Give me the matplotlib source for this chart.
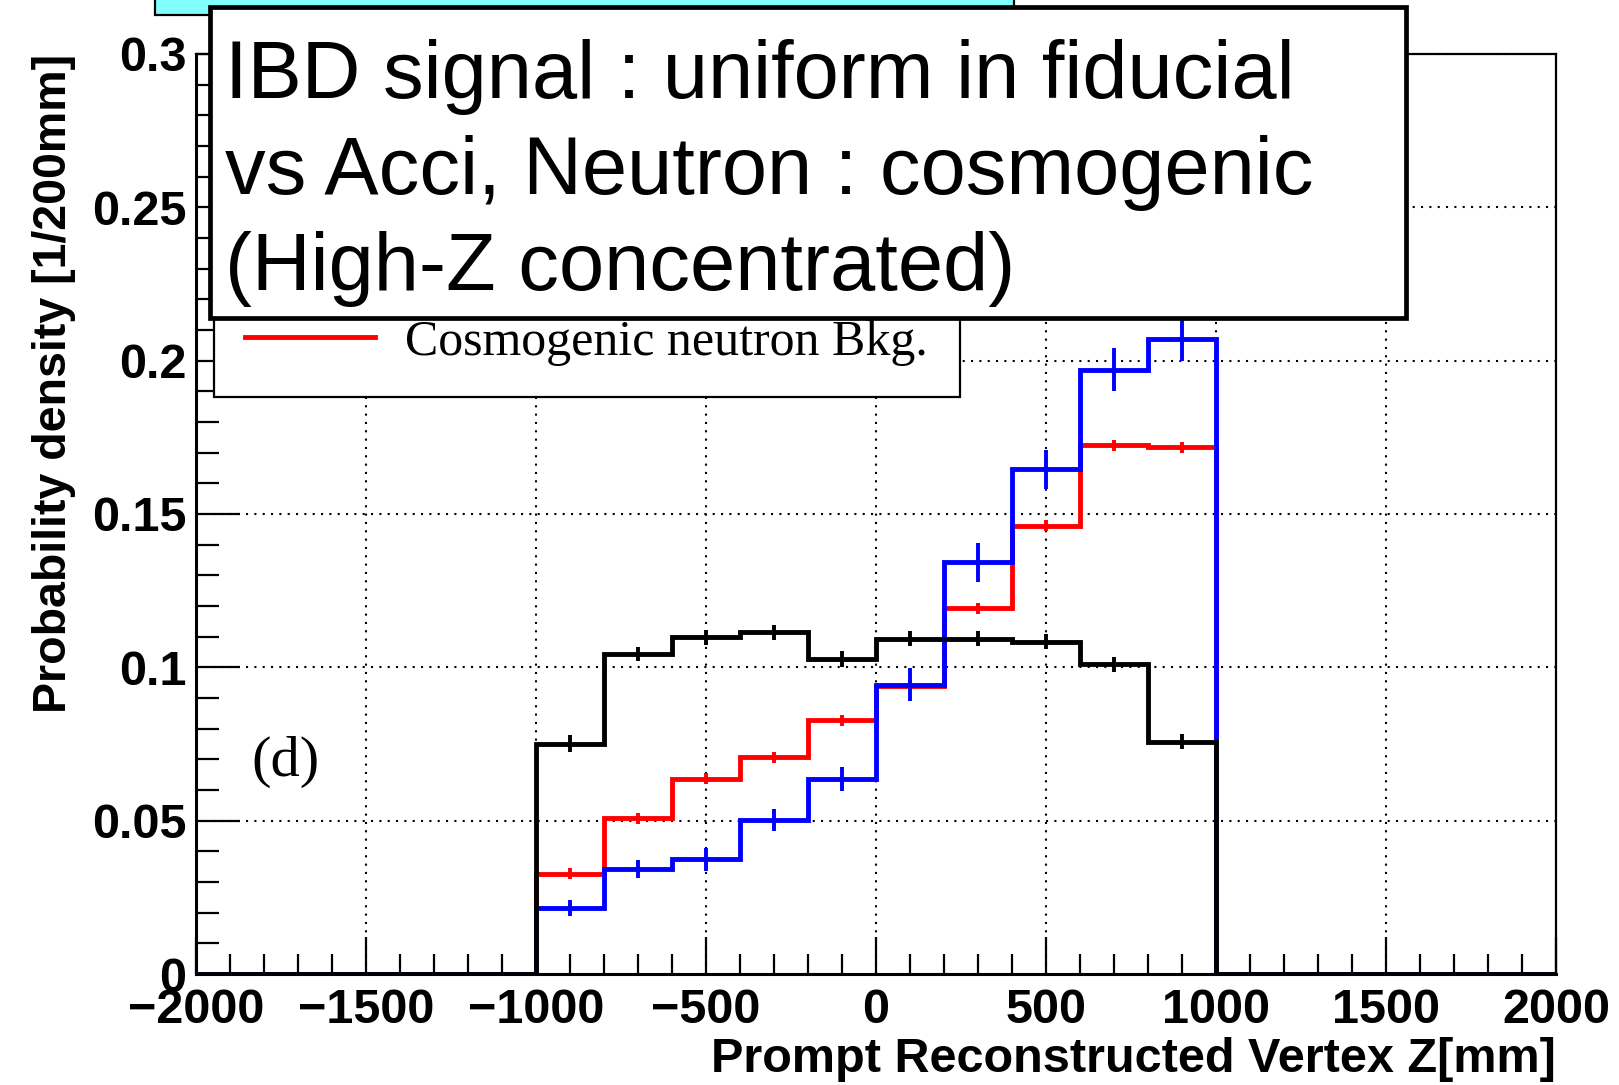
import matplotlib
matplotlib.use('Agg')
import matplotlib.pyplot as plt
import numpy as np
from matplotlib.patches import Rectangle
from matplotlib.lines import Line2D
from matplotlib.ticker import MultipleLocator, FuncFormatter

# ---- data ----
edges = np.arange(-2000, 2001, 200)
signal = [0, 0, 0, 0, 0,
          0.0751, 0.1044, 0.1098, 0.1114, 0.1027, 0.1094, 0.1094, 0.1084, 0.1010, 0.0758,
          0, 0, 0, 0, 0]
signal_err = [0, 0, 0, 0, 0,
              0.0027, 0.0023, 0.0025, 0.0025, 0.0025, 0.0025, 0.0025, 0.0025, 0.0025, 0.0025,
              0, 0, 0, 0, 0]
neutron = [0, 0, 0, 0, 0,
           0.0327, 0.0508, 0.0636, 0.0707, 0.0828, 0.0940, 0.1192, 0.1461, 0.1724, 0.1717,
           0, 0, 0, 0, 0]
neutron_err = [0, 0, 0, 0, 0,
               0.0018, 0.0018, 0.0018, 0.0018, 0.0018, 0.0018, 0.0018, 0.0018, 0.0018, 0.0018,
               0, 0, 0, 0, 0]
acci = [0, 0, 0, 0, 0,
        0.0215, 0.0343, 0.0374, 0.0502, 0.0636, 0.0943, 0.1343, 0.1646, 0.1970, 0.2070,
        0, 0, 0, 0, 0]
acci_err = [0, 0, 0, 0, 0,
            0.0027, 0.0030, 0.0037, 0.0037, 0.0040, 0.0054, 0.0064, 0.0064, 0.0070, 0.0070,
            0, 0, 0, 0, 0]

xticks_major = 500
xticks_minor = 100
yticks_major = 0.05
yticks_minor = 0.01

box_lines = ["IBD signal : uniform in fiducial",
             "vs Acci, Neutron : cosmogenic",
             "(High-Z concentrated)"]
legend_label = "Cosmogenic neutron Bkg."
panel_label = "(d)"
xlabel = "Prompt Reconstructed Vertex Z[mm]"
ylabel = "Probability density [1/200mm]"

W, H = 1619, 1085
fig = plt.figure(figsize=(W / 100, H / 100), dpi=100)
ax = fig.add_axes([196 / W, 1 - 974 / H, (1556 - 196) / W, (974 - 54) / H])

centers = 0.5 * (edges[:-1] + edges[1:])
lw = 3.5


def draw(vals, errs, color, z):
    vals = np.asarray(vals)
    errs = np.asarray(errs)
    ax.stairs(vals, edges, baseline=0, color=color, linewidth=lw, zorder=z)
    m = vals > 0
    ax.errorbar(centers[m], vals[m], yerr=errs[m], fmt='none', ecolor=color,
                elinewidth=2.8, capsize=0, zorder=z)


draw(neutron, neutron_err, '#ff0000', 3)
draw(acci, acci_err, '#0000ff', 4)
draw(signal, signal_err, '#000000', 5)

ax.set_xlim(-2000, 2000)
ax.set_ylim(0, 0.3)
ax.xaxis.set_major_locator(MultipleLocator(xticks_major))
ax.xaxis.set_minor_locator(MultipleLocator(xticks_minor))
ax.yaxis.set_major_locator(MultipleLocator(yticks_major))
ax.yaxis.set_minor_locator(MultipleLocator(yticks_minor))
fmt = FuncFormatter(lambda v, p: f"{v:g}".replace('-', '\u2212'))
ax.xaxis.set_major_formatter(fmt)
ax.yaxis.set_major_formatter(FuncFormatter(lambda v, p: f"{round(v, 4):g}"))

ax.tick_params(axis='x', which='major', direction='in', length=27, width=1.6, pad=10,
               top=False, bottom=True)
ax.tick_params(axis='x', which='minor', direction='in', length=14.5, width=1.6,
               top=False, bottom=True)
ax.tick_params(axis='y', which='major', direction='in', length=31.5, width=1.6, pad=7,
               left=True, right=False)
ax.tick_params(axis='y', which='minor', direction='in', length=16.5, width=1.6,
               left=True, right=False)
for lab in ax.get_xticklabels() + ax.get_yticklabels():
    lab.set_fontfamily('Liberation Sans')
    lab.set_fontweight('bold')
    lab.set_fontsize(35)

ax.grid(True, which='major', color='black', linestyle=(0, (1, 3)), linewidth=1.5)
ax.set_axisbelow(True)

for s in ['left', 'bottom']:
    ax.spines[s].set_linewidth(2.2)
for s in ['top', 'right']:
    ax.spines[s].set_linewidth(1.6)

ax.set_xlabel(xlabel, fontfamily='Liberation Sans', fontweight='bold', fontsize=35,
              loc='right', va='top')
ax.xaxis.set_label_coords(1.0, -0.069)
ax.set_ylabel(ylabel, fontfamily='Liberation Sans', fontweight='bold', fontsize=33.5,
              loc='top')
ax.yaxis.set_label_coords(-0.088, 1.0)

# legend (ROOT style box)
handle = Line2D([], [], color='#ff0000', linewidth=lw)
leg = ax.legend([handle], [legend_label], loc='lower left',
                bbox_to_anchor=(18 / 1360, (974 - 396.5) / 920, (960 - 214) / 1360, 0),
                mode='expand', borderaxespad=0, borderpad=0.62, handlelength=2.6,
                handletextpad=0.6, fancybox=False, framealpha=1, edgecolor='black',
                prop={'family': 'Liberation Serif', 'size': 36})
leg.get_frame().set_linewidth(1.6)
leg.set_zorder(10)

ax.text((251 - 196) / 1360, (974 - 762) / 920, panel_label, transform=ax.transAxes,
        fontfamily='Liberation Serif', fontsize=42, ha='left', va='center')

# cyan box at top (mostly cut off)
fig.add_artist(Rectangle((155 / W, 1 - 14.5 / H), (1014 - 155) / W, 0.05,
                         transform=fig.transFigure, facecolor='#80ffff',
                         edgecolor='black', linewidth=1.6, zorder=20))
# white annotation box
fig.add_artist(Rectangle((209.6 / W, 1 - 318 / H), (1406 - 209.6) / W, (318 - 7.2) / H,
                         transform=fig.transFigure, facecolor='white',
                         edgecolor='black', linewidth=3.4, zorder=21))
baselines = [98, 194, 290]
for txt, yb in zip(box_lines, baselines):
    fig.text(225 / W, 1 - yb / H, txt, fontfamily='Liberation Sans', fontsize=58.5,
             ha='left', va='baseline', zorder=22)

fig.savefig('out.png', dpi=100)
